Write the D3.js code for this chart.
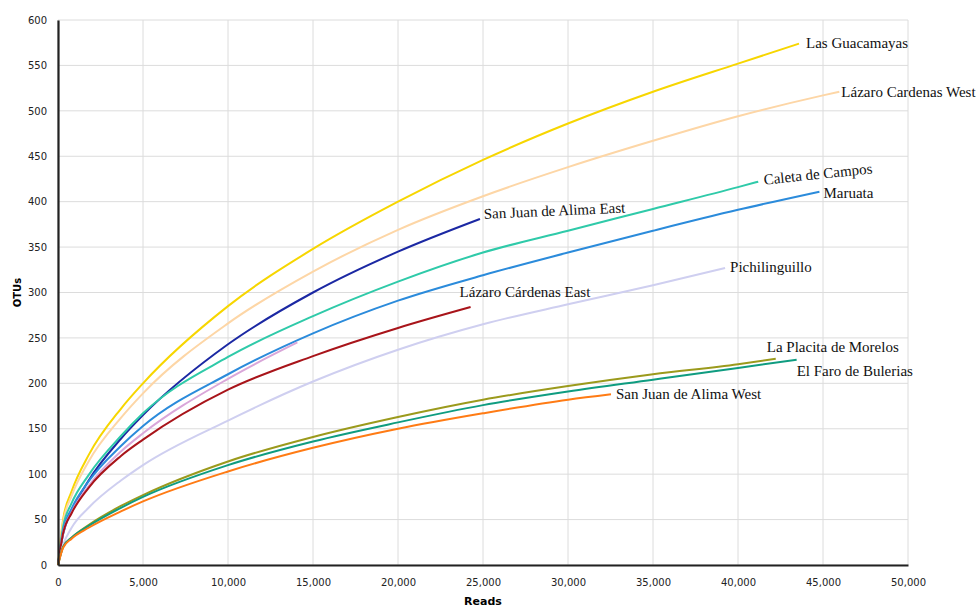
<!DOCTYPE html>
<html>
<head>
<meta charset="utf-8">
<script src="https://cdn.jsdelivr.net/npm/d3@7"></script>
<style>
  body { margin: 0; background: #fff; }
  .grid line { stroke: #dcdcdc; stroke-width: 1; }
  .axis text { font-family: "DejaVu Sans", Verdana, sans-serif; font-size: 10px; fill: #222; }
  .site-label { font-family: "Liberation Serif", "Times New Roman", serif; font-size: 15px; fill: #111; }
</style>
</head>
<body>
<svg class="rarefaction" width="976" height="607"></svg>
<script>
var readSteps = [0, 300, 800, 1800, 3700, 5000, 10000, 15000, 20000, 25000, 30000, 35000, 40000, 45000];

var sites = [
  "Las Guacamayas", "Lázaro Cardenas West", "San Juan de Alima East", "Caleta de Campos",
  "Maruata", "", "Lázaro Cárdenas East", "Pichilinguillo",
  "La Placita de Morelos", "El Faro de Bulerias", "San Juan de Alima West"
];
var colors = ["#f7d600", "#fdd6a6", "#1b28a3", "#2fcaa9", "#2b8bdb", "#d9a6d9", "#a8141a", "#cfcff0", "#9b9a1c", "#0f9c80", "#ff7b14"];

// OTUs at each read step, up to the last step before the sample ran out
var lasGuacamayas      = [0, 50, 81, 121, 172, 200, 285, 348, 400, 446, 486, 521, 552];
var lazaroWest         = [0, 47, 76, 114, 162, 189, 266, 323, 369, 406, 438, 467, 494, 517];
var sanJuanEast        = [0, 34, 59, 93, 139, 165, 243, 300, 345];
var caletaDeCampos     = [0, 42, 68, 99, 142, 167, 229, 274, 312, 344, 368, 392, 416];
var maruata            = [0, 38, 62, 92, 131, 153, 210, 255, 291, 319, 344, 368, 391];
var unlabeled          = [0, 35, 58, 87, 125, 145, 205];
var lazaroEast         = [0, 35, 57, 85, 120, 138, 193, 230, 261];
var pichilinguillo     = [0, 22, 41, 63, 93, 110, 159, 202, 237, 265, 287, 308];
var laPlacita          = [0, 20, 30, 44, 65, 77, 114, 141, 163, 182, 197, 210, 221];
var elFaro             = [0, 20, 30, 43, 63, 75, 110, 136, 157, 176, 191, 204, 217];
var sanJuanWest        = [0, 19, 29, 41, 59, 70, 103, 129, 150, 167, 182];

// final depth and final OTU count of each sample
var finalReads = [43590, 45960, 24820, 41190, 44790, 14080, 24270, 39240, 42220, 43450, 32530];
var finalOtus  = [574, 521, 381, 422, 411, 245, 284, 327, 227, 226, 188];

// label offsets from the curve end (dx, dy, rotation)
var labelDx  = [7, 2, 4, 6, 4, 0, -11, 5, -9, 0, 5];
var labelDy  = [4, 5, 0, 3, 6, 0, -10, 4, -7, 16, 5];
var labelRot = [0, 0, -2.6, -6, 0, 0, 0, 0, 0, 0, 0];

var xTicks = d3.range(0, 50001, 5000);
var yTicks = d3.range(0, 601, 50);

var otuLists = [lasGuacamayas, lazaroWest, sanJuanEast, caletaDeCampos, maruata, unlabeled,
  lazaroEast, pichilinguillo, laPlacita, elFaro, sanJuanWest];

var series = otuLists.map(function(vals, i) {
  var pts = vals.map(function(v, j) { return { reads: readSteps[j], otus: v }; });
  pts.push({ reads: finalReads[i], otus: finalOtus[i] });
  return { name: sites[i], color: colors[i], points: pts, i: i };
});

var svg = d3.select(".rarefaction"),
    margin = { top: 20, right: 68, bottom: 42, left: 58 },
    width = +svg.attr("width") - margin.left - margin.right,
    height = +svg.attr("height") - margin.top - margin.bottom;

var x = d3.scaleLinear().domain([0, 50000]).range([0, width]),
    y = d3.scaleLinear().domain([0, 600]).range([height, 0]);

var g = svg.append("g")
  .attr("transform", "translate(" + margin.left + "," + margin.top + ")");

// grid
g.append("g").attr("class", "grid")
  .selectAll("line.v").data(xTicks).enter().append("line")
  .attr("x1", function(d) { return x(d); }).attr("x2", function(d) { return x(d); })
  .attr("y1", 0).attr("y2", height);
g.append("g").attr("class", "grid")
  .selectAll("line.h").data(yTicks).enter().append("line")
  .attr("x1", 0).attr("x2", width)
  .attr("y1", function(d) { return y(d); }).attr("y2", function(d) { return y(d); });

// axes
var xAxis = g.append("g")
  .attr("class", "axis")
  .attr("transform", "translate(0," + height + ")")
  .call(d3.axisBottom(x).tickValues(xTicks).tickSize(0).tickPadding(14).tickFormat(d3.format(",")));
var yAxis = g.append("g")
  .attr("class", "axis")
  .call(d3.axisLeft(y).tickValues(yTicks).tickSize(0).tickPadding(11));
xAxis.select(".domain").attr("stroke", "#222").attr("stroke-width", 2.2);
yAxis.select(".domain").attr("stroke", "#222").attr("stroke-width", 2.2);

var line = d3.line()
  .x(function(d) { return x(d.reads); })
  .y(function(d) { return y(d.otus); })
  .curve(d3.curveMonotoneX);

g.selectAll(".curve")
  .data(series)
  .enter().append("path")
  .attr("class", "curve")
  .attr("fill", "none")
  .attr("stroke", function(d) { return d.color; })
  .attr("stroke-width", 2)
  .attr("d", function(d) { return line(d.points); });

// keep axis lines on top of the curves
xAxis.raise();
yAxis.raise();

g.selectAll(".site-label")
  .data(series.filter(function(d) { return d.name; }))
  .enter().append("text")
  .attr("class", "site-label")
  .attr("transform", function(d) {
    var lx = x(finalReads[d.i]) + labelDx[d.i],
        ly = y(finalOtus[d.i]) + labelDy[d.i];
    return "translate(" + lx + "," + ly + ") rotate(" + labelRot[d.i] + ")";
  })
  .text(function(d) { return d.name; });

svg.append("text")
  .attr("x", margin.left + width / 2)
  .attr("y", 605)
  .attr("text-anchor", "middle")
  .style("font-family", "'DejaVu Sans', Verdana, sans-serif")
  .style("font-weight", "bold")
  .style("font-size", "11px")
  .text("Reads");

svg.append("text")
  .attr("transform", "translate(21," + (margin.top + height / 2) + ") rotate(-90)")
  .attr("text-anchor", "middle")
  .style("font-family", "'DejaVu Sans', Verdana, sans-serif")
  .style("font-weight", "bold")
  .style("font-size", "10px")
  .text("OTUs");
</script>
</body>
</html>
